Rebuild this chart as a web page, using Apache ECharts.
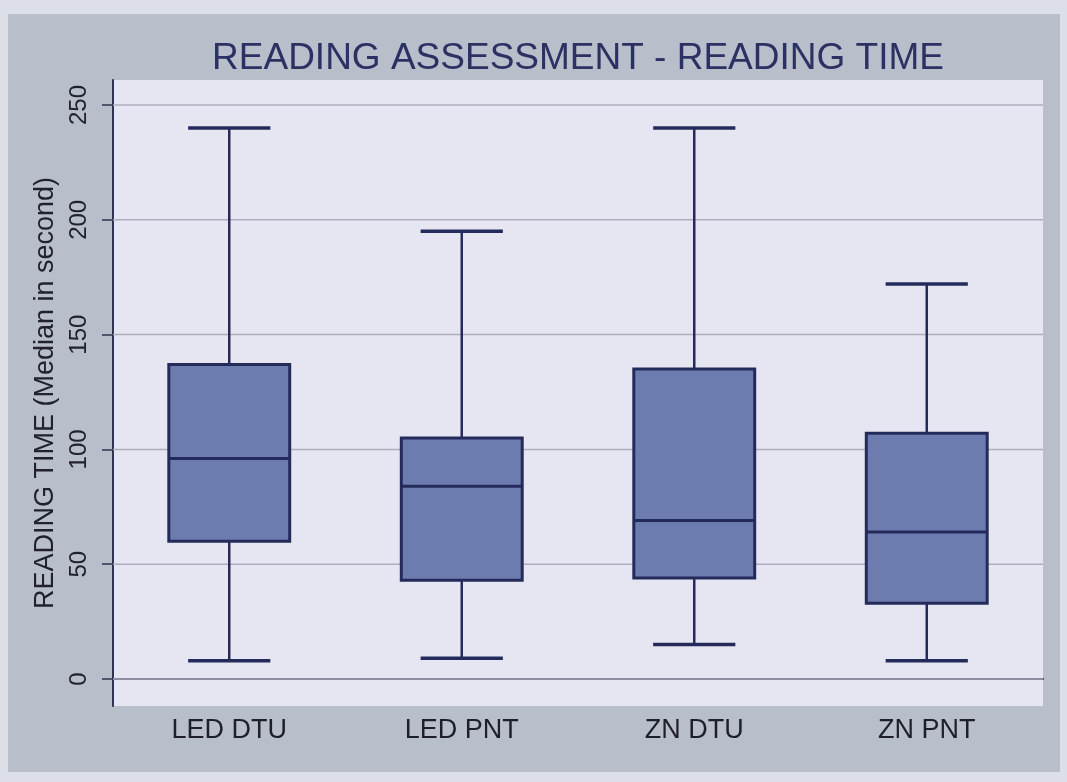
<!DOCTYPE html>
<html>
<head>
<meta charset="utf-8">
<script src="https://cdn.jsdelivr.net/npm/echarts@6/dist/echarts.min.js"></script>
<style>
  html, body { margin: 0; padding: 0; background: #dcdee8; }
  #chart { width: 1067px; height: 782px; }
</style>
</head>
<body>
<div id="chart"></div>
<script>
// Reading time per group: whisker ends, quartiles and median (seconds)
const categories = ['LED DTU', 'LED PNT', 'ZN DTU', 'ZN PNT'];
const whiskerLow = [8, 9, 15, 8];
const q1 = [60, 43, 44, 33];
const median = [96, 84, 69, 64];
const q3 = [137, 105, 135, 107];
const whiskerHigh = [240, 195, 240, 172];
const yTicks = [0, 50, 100, 150, 200, 250];

const titleText = 'READING ASSESSMENT - READING TIME';
const yName = 'READING TIME (Median in second)';

const BOX_FILL = '#6d7cae';
const INK = '#242b5b';

const boxData = categories.map((c, i) => [i, whiskerLow[i], q1[i], median[i], q3[i], whiskerHigh[i]]);

function renderBox(params, api) {
  const i = api.value(0);
  const pLow = api.coord([i, api.value(1)]);
  const pQ1 = api.coord([i, api.value(2)]);
  const pMed = api.coord([i, api.value(3)]);
  const pQ3 = api.coord([i, api.value(4)]);
  const pHigh = api.coord([i, api.value(5)]);
  const band = api.size([1, 0])[0];
  const boxW = band * 0.52;
  const capW = boxW * 0.68;
  const cx = pMed[0];
  const line = (x1, y1, x2, y2, w) => ({
    type: 'line',
    shape: { x1, y1, x2, y2 },
    style: { stroke: INK, lineWidth: w, lineCap: 'butt' }
  });
  return {
    type: 'group',
    children: [
      line(cx, pLow[1], cx, pQ1[1], 2.5),
      line(cx, pQ3[1], cx, pHigh[1], 2.5),
      line(cx - capW / 2, pLow[1], cx + capW / 2, pLow[1], 3.5),
      line(cx - capW / 2, pHigh[1], cx + capW / 2, pHigh[1], 3.5),
      {
        type: 'rect',
        shape: { x: cx - boxW / 2, y: pQ3[1], width: boxW, height: pQ1[1] - pQ3[1] },
        style: { fill: BOX_FILL, stroke: INK, lineWidth: 3 }
      },
      line(cx - boxW / 2, pMed[1], cx + boxW / 2, pMed[1], 3)
    ]
  };
}

// horizontal reference lines at each labelled value
function renderGridLine(params, api) {
  const cs = params.coordSys;
  const y = api.coord([0, api.value(0)])[1];
  return {
    type: 'line',
    shape: { x1: cs.x, y1: y, x2: cs.x + cs.width, y2: y },
    style: { stroke: '#aeafbd', lineWidth: 1.5 }
  };
}

const chart = echarts.init(document.getElementById('chart'), null, { renderer: 'canvas' });

chart.setOption({
  animation: false,
  textStyle: { fontFamily: 'Liberation Sans, Arial, sans-serif' },
  graphic: [
    {
      type: 'rect',
      z: -10,
      shape: { x: 8, y: 14, width: 1052, height: 758 },
      style: { fill: '#b9becb' }
    },
    {
      type: 'text',
      x: 578,
      y: 59,
      style: {
        text: titleText,
        fill: '#2b3163',
        font: '37px "Liberation Sans", Arial, sans-serif',
        textAlign: 'center',
        textVerticalAlign: 'middle'
      }
    }
  ],
  grid: {
    left: 113,
    right: 24,
    top: 80,
    bottom: 76,
    show: true,
    backgroundColor: '#e6e6f2',
    borderWidth: 0
  },
  xAxis: {
    type: 'category',
    data: categories,
    boundaryGap: true,
    axisLine: { show: true, lineStyle: { color: '#2e3350', width: 2 } },
    axisTick: { show: false },
    axisLabel: { fontSize: 27, color: '#1f1f2a', margin: 11 },
    splitLine: { show: false }
  },
  yAxis: {
    type: 'value',
    min: -11.76,
    max: 260.9,
    name: yName,
    nameLocation: 'middle',
    nameGap: 50,
    nameTextStyle: { fontSize: 27, color: '#22222e' },
    axisLine: { show: true, lineStyle: { color: '#2e3350', width: 2 } },
    axisTick: { show: true, length: 11, customValues: yTicks, lineStyle: { color: '#2e3350', width: 1.5 } },
    axisLabel: { customValues: yTicks, rotate: 90, fontSize: 24, color: '#22222e', margin: 22 },
    splitLine: { show: false }
  },
  series: [
    {
      type: 'custom',
      name: 'grid',
      silent: true,
      z: 1,
      data: yTicks.map(v => [v]),
      encode: { y: 0 },
      renderItem: renderGridLine
    },
    {
      type: 'custom',
      name: 'READING TIME',
      z: 2,
      data: boxData,
      encode: { x: 0, y: [1, 2, 3, 4, 5] },
      renderItem: renderBox
    }
  ]
});
</script>
</body>
</html>
